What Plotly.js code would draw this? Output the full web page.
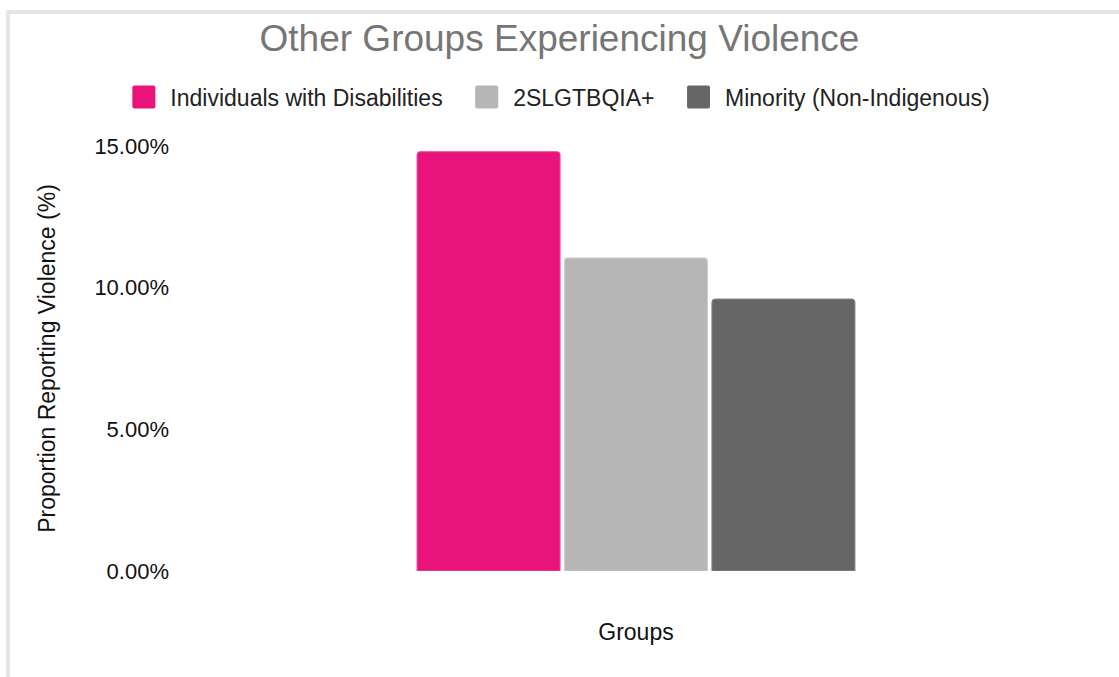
<!DOCTYPE html>
<html>
<head>
<meta charset="utf-8">
<script src="https://cdn.plot.ly/plotly-3.0.1.min.js"></script>
<style>
  html, body { margin: 0; padding: 0; background: #ffffff; }
  #frame { position: absolute; left: 6px; top: 10px; width: 1113px; height: 667px;
           box-sizing: border-box; border-top: 4px solid #e6e6e6; border-left: 4px solid #e6e6e6; }
  #chart { position: absolute; left: 0; top: 0; width: 1119px; height: 677px; }
</style>
</head>
<body>
<div id="frame"></div>
<div id="chart"></div>
<script>
const category = ["Groups"];
const seriesNames = ["Individuals with Disabilities", "2SLGTBQIA+", "Minority (Non-Indigenous)"];
const disabilities = [0.148];
const lgbtq = [0.1105];
const minority = [0.096];
const yTicks = [0, 0.05, 0.10, 0.15];

const colors = ["#e8137b", "#b6b6b6", "#666666"];
const edges = ["#ee4f9a", "#cdcdcd", "#858585"];
const values = [disabilities, lgbtq, minority];
const pad = "\u00A0\u00A0\u00A0\u00A0";

const traces = seriesNames.map((name, i) => ({
  type: "bar",
  name: i < seriesNames.length - 1 ? name + pad : name,
  x: category,
  y: values[i],
  marker: { color: colors[i], line: { color: edges[i], width: 1 }, cornerradius: 3 },
  hovertemplate: name + ": %{y:.2%}<extra></extra>"
}));

const font = "Liberation Sans, Arial, sans-serif";

const layout = {
  width: 1119, height: 677,
  paper_bgcolor: "rgba(0,0,0,0)",
  plot_bgcolor: "rgba(0,0,0,0)",
  margin: { l: 180, r: 27, t: 146, b: 106, autoexpand: false },
  barmode: "group",
  bargap: 0.515,
  bargroupgap: 0.03,
  font: { family: font, color: "#222222", size: 20 },
  title: {
    text: "Other Groups Experiencing Violence",
    font: { family: font, size: 37, color: "#767676" },
    xref: "container", x: 0.5, xanchor: "center",
    yref: "container", y: 1 - 38/677, yanchor: "middle"
  },
  legend: {
    orientation: "h",
    xref: "container", x: 0.503, xanchor: "center",
    yref: "container", y: 1 - 97/677, yanchor: "middle",
    font: { family: font, size: 23, color: "#222222" },
    tracegroupgap: 0
  },
  xaxis: {
    showticklabels: false, ticks: "", showline: false, showgrid: false, zeroline: false,
    title: { text: "Groups", font: { family: font, size: 23, color: "#111111" }, standoff: 52 }
  },
  yaxis: {
    range: [0, 0.15],
    tickvals: yTicks,
    tickformat: ".2%",
    showgrid: false, zeroline: false, showline: false, ticks: "",
    ticklabelstandoff: 10,
    tickfont: { family: font, size: 22, color: "#111111" },
    title: { text: "Proportion Reporting Violence (%)", font: { family: font, size: 23, color: "#111111" }, standoff: 32 }
  }
};

function enlargeSwatches() {
  document.querySelectorAll("#chart .legend .legendpoints path").forEach(p => {
    p.setAttribute("d", "M3,11.5H-16A2,2 0 0 1 -18,9.5V-9.5A2,2 0 0 1 -16,-11.5H3A2,2 0 0 1 5,-9.5V9.5A2,2 0 0 1 3,11.5Z");
    p.style.strokeWidth = "0px";
  });
}

Plotly.newPlot("chart", traces, layout, { displayModeBar: false }).then(gd => {
  enlargeSwatches();
  gd.on("plotly_afterplot", enlargeSwatches);
});
</script>
</body>
</html>
